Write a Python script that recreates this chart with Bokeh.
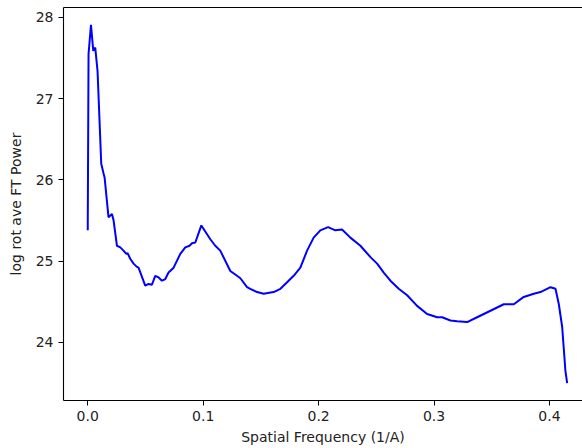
from bokeh.plotting import figure
from bokeh.models import Range1d, FixedTicker, PrintfTickFormatter, LinearAxis
from bokeh.embed import file_html
from bokeh.resources import INLINE

freq = [0.0, 0.0007, 0.0028, 0.0048, 0.0065, 0.0085, 0.0117, 0.0137, 0.0146, 0.0180,
        0.0210, 0.0224, 0.0253, 0.0282, 0.0310, 0.0334, 0.0345, 0.0368, 0.0397, 0.0426,
        0.0440, 0.0498, 0.0527, 0.0556, 0.0585, 0.0614, 0.0643, 0.0672, 0.0700, 0.0744,
        0.0802, 0.0845, 0.0882, 0.0903, 0.0932, 0.0984, 0.1062, 0.1105, 0.1148, 0.1235,
        0.1293, 0.1322, 0.1380, 0.1408, 0.1467, 0.1524, 0.1610, 0.1669, 0.1727, 0.1784,
        0.1842, 0.1900, 0.1957, 0.2015, 0.2082, 0.2145, 0.2203, 0.2275, 0.2362, 0.2449,
        0.2507, 0.2564, 0.2622, 0.2694, 0.2767, 0.2853, 0.2940, 0.3027, 0.3070, 0.3142,
        0.3200, 0.3287, 0.3373, 0.3489, 0.3604, 0.3691, 0.3777, 0.3864, 0.3922, 0.4009,
        0.4052, 0.4081, 0.4110, 0.4138, 0.4153]
power = [25.38, 27.55, 27.91, 27.59, 27.63, 27.34, 26.20, 26.08, 26.03, 25.54,
         25.58, 25.50, 25.19, 25.17, 25.13, 25.09, 25.10, 25.03, 24.97, 24.93,
         24.92, 24.70, 24.72, 24.71, 24.82, 24.80, 24.76, 24.78, 24.86, 24.92,
         25.09, 25.17, 25.19, 25.22, 25.23, 25.44, 25.27, 25.19, 25.13, 24.88,
         24.82, 24.79, 24.68, 24.66, 24.62, 24.60, 24.62, 24.66, 24.74, 24.82,
         24.92, 25.13, 25.29, 25.38, 25.42, 25.38, 25.39, 25.29, 25.19, 25.05,
         24.97, 24.86, 24.76, 24.66, 24.58, 24.45, 24.35, 24.31, 24.31, 24.27,
         24.26, 24.25, 24.31, 24.39, 24.47, 24.47, 24.56, 24.60, 24.62, 24.68,
         24.66, 24.47, 24.19, 23.65, 23.50]
x_ticks = [0.0, 0.1, 0.2, 0.3, 0.4]
y_ticks = [24, 25, 26, 27, 28]

FONT = "DejaVu Sans"

p = figure(width=582, height=448, output_backend="svg", toolbar_location=None,
           x_range=Range1d(-0.021, 0.4286), y_range=Range1d(23.285, 28.123),
           min_border_left=63, min_border_right=0, min_border_top=7, min_border_bottom=48)

p.line(freq, power, line_color="#0000ff", line_width=2)

p.xgrid.visible = False
p.ygrid.visible = False
p.outline_line_color = None
p.background_fill_color = "white"
p.border_fill_color = "white"

for ax in (p.xaxis[0], p.yaxis[0]):
    ax.major_tick_in = 0
    ax.major_tick_out = 5
    ax.minor_tick_line_color = None
    ax.major_tick_line_color = "black"
    ax.axis_line_color = "black"
    ax.axis_line_width = 1.1
    ax.major_label_text_font = FONT
    ax.major_label_text_font_size = "14px"
    ax.major_label_text_color = "#222222"
    ax.axis_label_text_font = FONT
    ax.axis_label_text_font_size = "14px"
    ax.axis_label_text_font_style = "normal"
    ax.axis_label_text_color = "#222222"
    ax.major_label_standoff = 5

p.xaxis[0].ticker = FixedTicker(ticks=x_ticks)
p.xaxis[0].formatter = PrintfTickFormatter(format="%.1f")
p.xaxis[0].axis_label = "Spatial Frequency (1/A)"
p.xaxis[0].axis_label_standoff = 5

p.yaxis[0].ticker = FixedTicker(ticks=y_ticks)
p.yaxis[0].formatter = PrintfTickFormatter(format="%d")
p.yaxis[0].axis_label = "log rot ave FT Power"
p.yaxis[0].axis_label_standoff = 9

top = LinearAxis(ticker=FixedTicker(ticks=[]), axis_line_color="black", axis_line_width=1.1,
                 major_tick_line_color=None, minor_tick_line_color=None,
                 major_label_text_font_size="0px")
p.add_layout(top, "above")

open("out.html", "w").write(file_html(p, INLINE))
